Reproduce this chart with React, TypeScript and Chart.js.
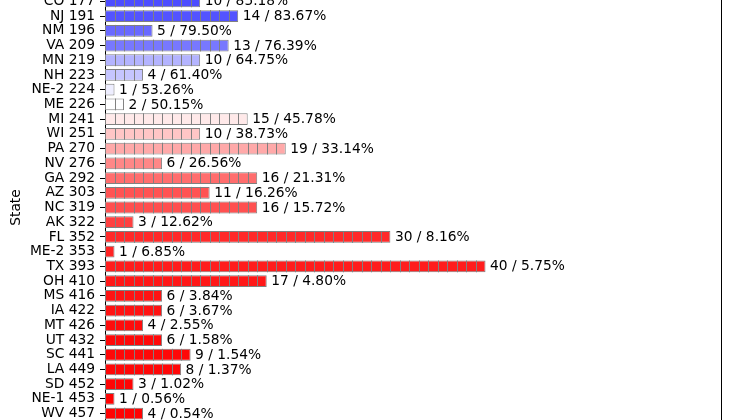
import { useEffect, useRef } from "react";
import { Chart, registerables } from "chart.js";

Chart.register(...registerables);

const states = [
  "CO", "NJ", "NM", "VA", "MN", "NH", "NE-2", "ME", "MI", "WI",
  "PA", "NV", "GA", "AZ", "NC", "AK", "FL", "ME-2", "TX", "OH",
  "MS", "IA", "MT", "UT", "SC", "LA", "SD", "NE-1", "WV",
];
const cumulativeVotes = [
  177, 191, 196, 209, 219, 223, 224, 226, 241, 251,
  270, 276, 292, 303, 319, 322, 352, 353, 393, 410,
  416, 422, 426, 432, 441, 449, 452, 453, 457,
];
const electoralVotes = [
  10, 14, 5, 13, 10, 4, 1, 2, 15, 10,
  19, 6, 16, 11, 16, 3, 30, 1, 40, 17,
  6, 6, 4, 6, 9, 8, 3, 1, 4,
];
const marginPct = [
  85.18, 83.67, 79.5, 76.39, 64.75, 61.4, 53.26, 50.15, 45.78, 38.73,
  33.14, 26.56, 21.31, 16.26, 15.72, 12.62, 8.16, 6.85, 5.75, 4.8,
  3.84, 3.67, 2.55, 1.58, 1.54, 1.37, 1.02, 0.56, 0.54,
];

// blue-white-red colour map keyed on the percentage
function bwr(p: number): string {
  const t = Math.min(1, Math.abs(p - 50) / 50);
  const c = Math.round(255 * (1 - t));
  return p >= 50 ? `rgb(${c},${c},255)` : `rgb(255,${c},${c})`;
}

const FONT_FAMILY = "'DejaVu Sans', sans-serif";
const FONT_SIZE = 13.8;

export default function App() {
  const ref = useRef<HTMLCanvasElement>(null);

  useEffect(() => {
    document.body.style.overflow = "hidden";
    const canvas = ref.current;
    if (!canvas) return;
    const labels = states.map((s, i) => `${s} ${cumulativeVotes[i]}`);
    const colors = marginPct.map(bwr);
    const font = { family: FONT_FAMILY, size: FONT_SIZE };

    const squaresPlugin = {
      id: "squares",
      afterDatasetsDraw(chart: any) {
        const ctx = chart.ctx;
        const xs = chart.scales.x;
        const meta = chart.getDatasetMeta(0);
        ctx.save();
        meta.data.forEach((bar: any, i: number) => {
          const { y, height } = bar.getProps(["y", "height"], true);
          const n = electoralVotes[i];
          ctx.strokeStyle = "#808080";
          ctx.lineWidth = 1;
          ctx.beginPath();
          for (let k = 1; k < n; k++) {
            const px = Math.round(xs.getPixelForValue(k)) + 0.5;
            ctx.moveTo(px, y - height / 2);
            ctx.lineTo(px, y + height / 2);
          }
          ctx.stroke();
          ctx.fillStyle = "#000";
          ctx.font = `${FONT_SIZE}px ${FONT_FAMILY}`;
          ctx.textBaseline = "middle";
          ctx.textAlign = "left";
          ctx.fillText(
            `${n} / ${marginPct[i].toFixed(2)}%`,
            xs.getPixelForValue(n) + 4.5,
            y + 0.5
          );
        });
        const a = chart.chartArea;
        ctx.strokeStyle = "#000";
        ctx.lineWidth = 1;
        ctx.beginPath();
        ctx.moveTo(Math.round(a.right) + 0.5, a.top);
        ctx.lineTo(Math.round(a.right) + 0.5, a.bottom);
        ctx.stroke();
        ctx.restore();
      },
    };

    const chart = new Chart(canvas, {
      type: "bar",
      data: {
        labels,
        datasets: [
          {
            data: electoralVotes,
            backgroundColor: colors,
            borderColor: "#808080",
            borderWidth: 1,
            borderSkipped: false,
            barPercentage: 0.8,
            categoryPercentage: 1,
          },
        ],
      },
      options: {
        indexAxis: "y",
        responsive: true,
        maintainAspectRatio: false,
        animation: false,
        layout: { padding: { left: 0, right: 9.5, top: 0, bottom: 0 } },
        plugins: {
          legend: { display: false },
          tooltip: { enabled: false },
        },
        scales: {
          x: { display: false, min: 0, max: 64.7 },
          y: {
            grid: {
              display: true,
              drawOnChartArea: false,
              drawTicks: true,
              tickLength: 5,
              color: "#000",
              lineWidth: 1,
              offset: false,
            },
            border: { display: true, color: "#000", width: 1 },
            ticks: { color: "#000", font, padding: 5, autoSkip: false },
            title: {
              display: true,
              text: "State",
              color: "#000",
              font,
              padding: { top: 8, bottom: 0 },
            },
            afterFit(scale: any) {
              scale.width = 105;
              scale.paddingTop = 0;
              scale.paddingBottom = 0;
            },
          },
        },
      },
      plugins: [squaresPlugin],
    } as any);

    return () => chart.destroy();
  }, []);

  return (
    <div
      style={{
        position: "absolute",
        left: 0,
        top: 0,
        width: 730,
        height: 420,
        overflow: "hidden",
        background: "#fff",
      }}
    >
      <div
        style={{
          position: "absolute",
          left: 0,
          top: -6,
          width: 730,
          height: 427,
        }}
      >
        <canvas ref={ref} />
      </div>
    </div>
  );
}
